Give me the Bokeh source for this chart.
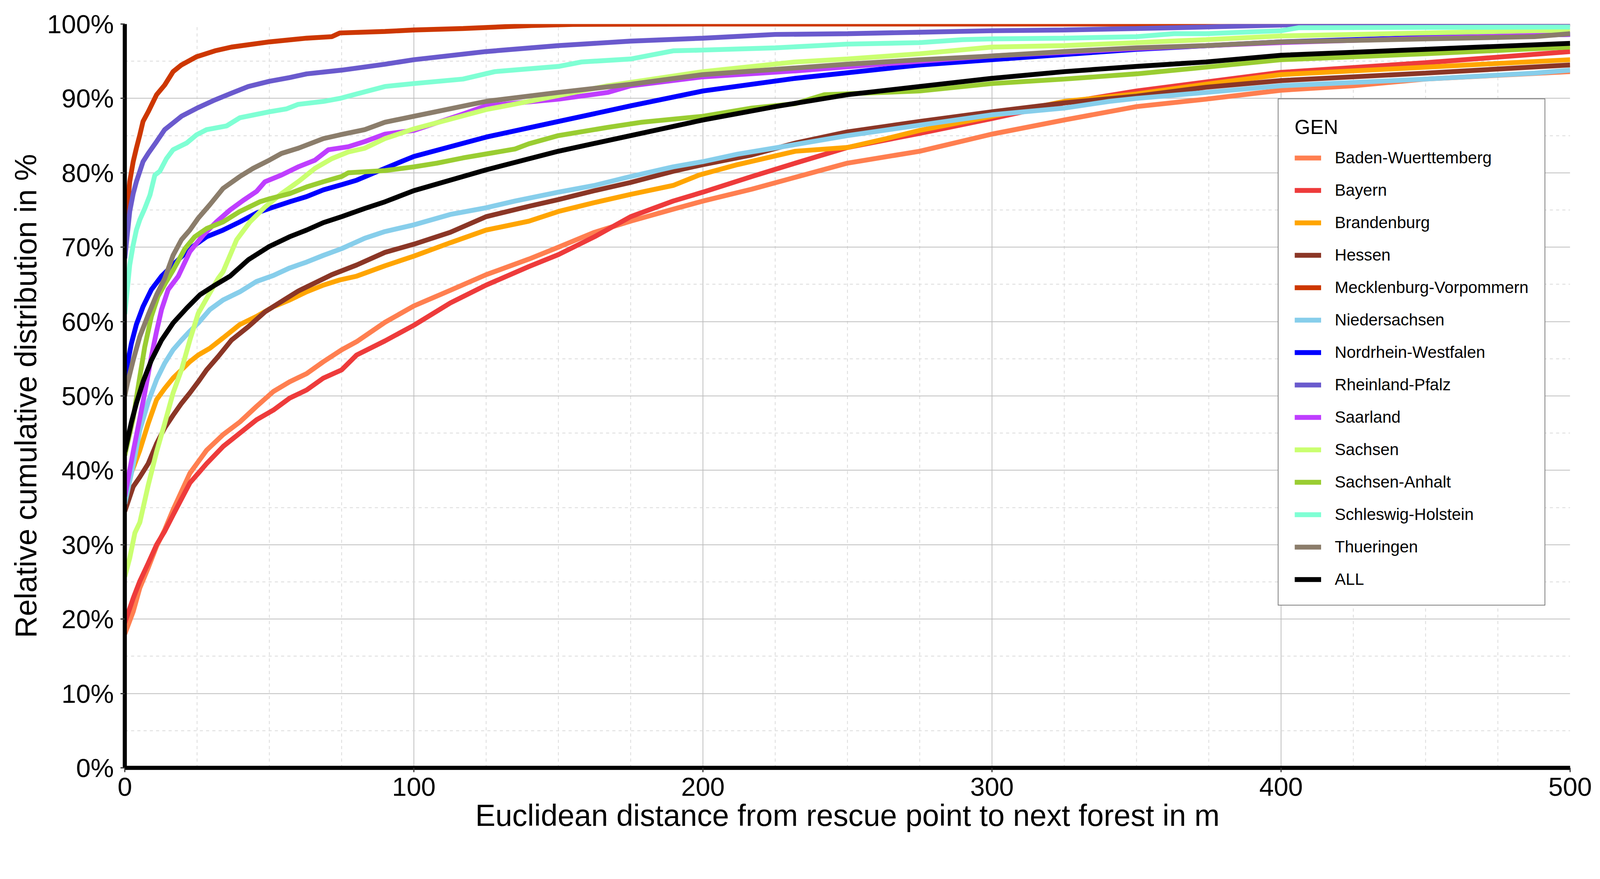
from bokeh.plotting import figure
from bokeh.models import (Range1d, FixedTicker, Legend, LegendItem)
from bokeh.embed import file_html
from bokeh.resources import INLINE

# ---------------- data ----------------
states = ["Baden-Wuerttemberg", "Bayern", "Brandenburg", "Hessen",
          "Mecklenburg-Vorpommern", "Niedersachsen", "Nordrhein-Westfalen",
          "Rheinland-Pfalz", "Saarland", "Sachsen", "Sachsen-Anhalt",
          "Schleswig-Holstein", "Thueringen", "ALL"]
colors = ["#FF7F50", "#EE3B3B", "#FFA500", "#8B3626", "#CD3700", "#87CEEB",
          "#0000FF", "#6A5ACD", "#BF3EFF", "#CAFF70", "#9ACD32", "#7FFFD4",
          "#8B7D6B", "#000000"]

bw_x = [0, 2.9, 5.2, 8.1, 11, 13.8, 16.7, 22.5, 28.3, 34, 39.8, 45.6, 51.4, 57, 62.9, 68.7, 75, 80.2, 90, 100,
        112.6, 125, 139.8, 150, 162.5, 175, 189.7, 200, 216.9, 232, 250, 275, 300, 325, 350, 374, 400, 425, 450, 500]
bw_y = [18, 21, 24.2, 26.9, 29.8, 32.0, 34.7, 39.6, 42.7, 44.8, 46.5, 48.6, 50.6, 51.9, 53.0, 54.6, 56.2, 57.3, 59.9, 62.1,
        64.2, 66.3, 68.4, 70.0, 72.0, 73.5, 75.1, 76.2, 77.8, 79.4, 81.3, 82.9, 85.2, 87.1, 88.9, 89.9, 91.1, 91.7, 92.6, 93.6]

by_x = [0, 2.9, 5.2, 8.1, 11, 13.8, 16.7, 22.5, 28.3, 34, 39.8, 45.6, 51.4, 57, 62.9, 68.7, 75, 80.2, 90, 100,
        112.6, 125, 139.8, 150, 162.5, 175, 189.7, 200, 216.9, 232, 250, 275, 300, 325, 350, 374, 400, 450, 500]
by_y = [19.5, 22.8, 25.1, 27.5, 30.0, 31.8, 34.0, 38.3, 40.9, 43.2, 45.0, 46.8, 48.1, 49.7, 50.8, 52.4, 53.5, 55.5, 57.4, 59.5,
        62.5, 64.9, 67.4, 69.0, 71.4, 74.1, 76.2, 77.4, 79.5, 81.3, 83.4, 85.3, 87.3, 89.4, 91.0, 92.2, 93.5, 94.8, 96.3]

bb_x = [0, 2.9, 5.2, 8.1, 11, 13.8, 16.7, 19.6, 22.5, 25.4, 29.4, 34, 39.8, 45.6, 51.4, 57, 62.9, 68.7, 74.4, 80.2,
        90, 100, 112.6, 125, 139.8, 150, 162.5, 175, 189.7, 198.7, 212, 232, 250, 263.5, 275, 300, 325, 350, 374, 400, 450, 500]
bb_y = [37.5, 40.3, 42.7, 46.3, 49.5, 51.0, 52.4, 53.5, 54.6, 55.5, 56.4, 57.8, 59.6, 60.7, 62.0, 62.9, 64.0, 64.9, 65.6, 66.1,
        67.5, 68.8, 70.6, 72.3, 73.5, 74.8, 76.0, 77.1, 78.3, 79.7, 81.1, 82.9, 83.4, 84.6, 85.7, 87.6, 89.6, 90.6, 91.9, 93.2, 94.2, 95.2]

he_x = [0, 2.9, 5.2, 8.1, 11, 13.8, 16.7, 19.6, 22.5, 25.4, 28.3, 32.3, 36.9, 42.7, 48.5, 54.2, 60, 65.8, 71.6, 80.2,
        90, 100, 112.6, 125, 139.8, 150, 162.5, 175, 189.7, 200, 216.9, 232, 250, 275, 300, 325, 350, 374, 400, 450, 500]
he_y = [34.5, 37.8, 39.1, 40.9, 43.6, 45.7, 47.4, 49.0, 50.4, 51.9, 53.5, 55.3, 57.5, 59.3, 61.3, 62.7, 64.1, 65.2, 66.3, 67.6,
        69.3, 70.4, 72.0, 74.1, 75.5, 76.4, 77.6, 78.7, 80.2, 81.1, 82.4, 84.0, 85.5, 86.9, 88.2, 89.4, 90.3, 91.5, 92.4, 93.4, 94.5]

mv_x = [0, 1.7, 2.9, 4.0, 5.2, 6.3, 8.1, 11, 13.8, 16.7, 19.6, 24.8, 31.2, 36.9, 50, 62.9, 71.6, 74.4, 90, 100,
        117, 140.7, 155, 200, 500]
mv_y = [71.5, 78.8, 81.5, 83.3, 85.1, 86.9, 88.2, 90.5, 91.8, 93.6, 94.5, 95.6, 96.4, 96.9, 97.6, 98.1, 98.3, 98.8, 99.0, 99.2,
        99.4, 99.8, 99.95, 100, 100]

ns_x = [0, 2.9, 5.2, 8.1, 11, 13.8, 16.7, 19.6, 22.5, 25.4, 29.4, 34, 39.8, 45.6, 51.4, 57, 62.9, 68.7, 75, 83,
        90, 100, 112.6, 125, 135, 150, 162.5, 175, 189.7, 200, 212, 232, 250, 275, 300, 325, 340.5, 350, 374, 400,
        450, 487.7, 500]
ns_y = [35.5, 40.7, 45.4, 49.2, 52.2, 54.4, 56.2, 57.5, 58.7, 59.8, 61.6, 62.9, 64.0, 65.4, 66.2, 67.2, 68.0, 68.9, 69.8, 71.2,
        72.1, 73.0, 74.4, 75.3, 76.2, 77.4, 78.3, 79.5, 80.8, 81.5, 82.5, 83.8, 85.0, 86.4, 87.8, 88.7, 89.6, 90.0, 90.8, 91.7,
        92.6, 93.4, 93.8]

nrw_x = [0, 2.3, 4, 6.3, 9.2, 12.7, 18.5, 22.5, 28.3, 34, 39.8, 45.6, 50, 57, 62.9, 68.7, 75, 80.2, 90, 100,
         125, 150, 175, 200, 232, 275, 300, 325, 350, 400, 450, 500]
nrw_y = [52.5, 57.1, 59.6, 62.0, 64.3, 66.1, 68.3, 69.8, 71.4, 72.3, 73.4, 74.6, 75.2, 76.1, 76.8, 77.7, 78.4, 79.0, 80.6, 82.2,
         84.8, 86.9, 89.0, 91.0, 92.7, 94.5, 95.2, 95.9, 96.6, 97.6, 98.2, 98.6]

rp_x = [0, 1.7, 2.9, 4.0, 5.2, 6.3, 8.1, 11, 13.8, 16.7, 19.6, 25, 31.2, 36.9, 42.7, 50, 57, 62.9, 75, 90,
        100, 125, 150, 175, 200, 225, 250, 275, 300, 325, 350, 374, 404, 420, 500]
rp_y = [68.5, 74.8, 77.2, 78.8, 80.2, 81.5, 82.6, 84.2, 85.8, 86.7, 87.6, 88.7, 89.8, 90.7, 91.6, 92.3, 92.8, 93.3, 93.8, 94.6,
        95.2, 96.3, 97.1, 97.7, 98.1, 98.6, 98.7, 98.9, 99.1, 99.2, 99.4, 99.6, 99.9, 100, 100]

sl_x = [0, 2.9, 5.2, 6.9, 9.2, 11, 12.7, 15, 18.5, 22.5, 27.1, 31.7, 36.4, 41, 45.6, 48.5, 54.2, 60, 65.8, 70.4,
        77.3, 83, 90, 100, 117, 125, 150, 167, 175, 200, 232, 275, 300, 350, 400, 450, 500]
sl_y = [36.5, 42.5, 47.0, 50.4, 55.3, 58.7, 61.6, 64.3, 66.1, 69.4, 71.6, 73.4, 75.0, 76.3, 77.5, 78.8, 79.7, 80.8, 81.7, 83.1,
        83.5, 84.2, 85.2, 85.7, 87.9, 89.0, 89.9, 90.8, 91.7, 92.9, 93.7, 95.0, 95.7, 96.7, 97.5, 98.1, 98.6]

sn_x = [0, 1.7, 3.5, 5.2, 8.1, 11, 13.8, 16.7, 19.6, 22.5, 25.4, 28.3, 32.3, 34, 38.7, 43.3, 48.5, 54.2, 60, 65.8,
        71.6, 77.3, 83, 90, 100, 125, 139.8, 167, 200, 232, 250, 275, 300, 325, 350, 374, 400, 450, 500]
sn_y = [25.7, 28.2, 31.6, 33.0, 38.0, 42.5, 46.3, 50.4, 53.5, 57.5, 61.1, 63.1, 65.8, 66.7, 71.0, 73.4, 75.4, 77.2, 78.8, 80.6,
        81.9, 82.8, 83.3, 84.6, 85.9, 88.5, 89.6, 91.7, 93.6, 94.9, 95.3, 96.0, 96.9, 97.1, 97.5, 97.9, 98.4, 98.8, 99.2]

st_x = [0, 2.9, 5.2, 6.9, 9.2, 11.5, 14.4, 16.7, 20.8, 24.2, 28.3, 34, 39.8, 46.7, 50, 57, 62.9, 68.7, 75, 77.3,
        90, 100, 108, 117, 135, 139.8, 150, 167, 178.8, 200, 216.9, 232, 242, 275, 300, 325, 350, 374, 400, 450, 500]
st_y = [42.0, 47.0, 52.6, 56.6, 60.7, 63.4, 65.4, 66.9, 69.8, 71.4, 72.5, 73.4, 74.8, 76.1, 76.5, 77.2, 78.1, 78.8, 79.5, 80.0,
        80.3, 80.8, 81.3, 82.0, 83.2, 83.9, 85.0, 86.1, 86.8, 87.6, 88.7, 89.3, 90.5, 91.0, 92.0, 92.6, 93.3, 94.2, 95.2, 96.0, 96.9]

sh_x = [0, 1.7, 2.9, 4.0, 5.2, 6.9, 8.7, 10.4, 12.1, 14.4, 16.7, 21.4, 24.8, 28.3, 35.2, 39.8, 50, 56, 60, 68.7,
        74.4, 80.2, 90, 100, 117, 128, 150, 158, 175, 189.7, 200, 225, 250, 275, 289.8, 300, 325, 350, 363, 374,
        400, 406, 500]
sh_y = [61.0, 67.6, 70.3, 72.3, 73.7, 75.2, 77.0, 79.7, 80.2, 81.9, 83.1, 84.0, 85.1, 85.8, 86.3, 87.4, 88.2, 88.6, 89.2, 89.6,
        90.0, 90.6, 91.6, 92.0, 92.6, 93.6, 94.3, 94.9, 95.3, 96.4, 96.5, 96.8, 97.3, 97.5, 97.9, 98.0, 98.1, 98.3, 98.7, 98.7,
        99.1, 99.5, 99.6]

th_x = [0, 0.9, 2.9, 5.2, 8.1, 11, 13.8, 16.7, 19.6, 22.5, 25.4, 29.4, 34, 39.8, 44.4, 50, 54.2, 60, 68.7, 74.4,
        83, 90, 100, 125, 150, 175, 200, 232, 250, 275, 300, 325, 350, 374, 400, 450, 487.7, 500]
th_y = [50.0, 51.7, 54.8, 58.0, 60.9, 63.6, 65.8, 68.9, 71.0, 72.3, 73.9, 75.7, 77.9, 79.5, 80.6, 81.7, 82.6, 83.3, 84.6, 85.1,
        85.8, 86.8, 87.6, 89.6, 90.8, 91.9, 93.2, 94.1, 94.6, 95.2, 95.7, 96.3, 96.8, 97.1, 97.6, 98.0, 98.3, 98.7]

all_x = [0, 2.3, 4, 6.3, 9.2, 12.7, 16.7, 21.4, 26, 31.2, 36.4, 42.7, 50, 57, 62.9, 68.7, 75, 83, 90, 100,
         125, 150, 175, 200, 225, 250, 275, 300, 325, 350, 374, 400, 450, 500]
all_y = [42.5, 46.5, 49.0, 51.9, 54.8, 57.5, 59.8, 61.8, 63.6, 64.9, 66.1, 68.3, 70.1, 71.4, 72.3, 73.3, 74.1, 75.2, 76.1, 77.6,
         80.4, 82.9, 85.0, 87.1, 88.9, 90.5, 91.6, 92.7, 93.6, 94.3, 94.9, 95.8, 96.6, 97.4]

series_x = [bw_x, by_x, bb_x, he_x, mv_x, ns_x, nrw_x, rp_x, sl_x, sn_x, st_x, sh_x, th_x, all_x]
series_y = [bw_y, by_y, bb_y, he_y, mv_y, ns_y, nrw_y, rp_y, sl_y, sn_y, st_y, sh_y, th_y, all_y]

x_ticks = [0, 100, 200, 300, 400, 500]
x_minor = [25, 50, 75, 125, 150, 175, 225, 250, 275, 325, 350, 375, 425, 450, 475]
y_ticks = [0, 10, 20, 30, 40, 50, 60, 70, 80, 90, 100]
y_minor = [5, 15, 25, 35, 45, 55, 65, 75, 85, 95]
y_tick_labels = ["0%", "10%", "20%", "30%", "40%", "50%", "60%", "70%", "80%", "90%", "100%"]

x_title = "Euclidean distance from rescue point to next forest in m"
y_title = "Relative cumulative distribution in %"
legend_title = "GEN"

# ---------------- layout ----------------
K = 0.956          # overall scale so that the whole page fits the photographed area
FONT = "Liberation Sans"


def s(v):
    return int(round(v * K))


def fs(v):
    return "%.1fpx" % (v * K)


FW, FH = s(3870), s(1992)

p = figure(frame_width=FW, frame_height=FH, output_backend="svg", toolbar_location=None,
           x_range=Range1d(0, 500), y_range=Range1d(0, 100),
           min_border_left=s(334), min_border_top=s(64), min_border_right=s(60),
           min_border_bottom=s(150))
p.outline_line_color = None
p.background_fill_color = "white"
p.border_fill_color = "white"

p.xaxis.ticker = FixedTicker(ticks=x_ticks, minor_ticks=x_minor)
p.yaxis.ticker = FixedTicker(ticks=y_ticks, minor_ticks=y_minor)
p.yaxis.major_label_overrides = {t: l for t, l in zip(y_ticks, y_tick_labels)}

for ax in (p.xaxis, p.yaxis):
    ax.axis_line_color = "black"
    ax.axis_line_width = 11 * K
    ax.major_tick_line_color = "#333333"
    ax.major_tick_line_width = 3 * K
    ax.major_tick_in = 0
    ax.major_tick_out = s(12)
    ax.minor_tick_line_color = None
    ax.major_label_text_font = FONT
    ax.major_label_text_font_size = fs(70)
    ax.major_label_text_color = "black"
    ax.axis_label_text_font = FONT
    ax.axis_label_text_font_size = fs(81)
    ax.axis_label_text_font_style = "normal"
    ax.axis_label_text_color = "black"

p.xaxis.axis_label = x_title
p.yaxis.axis_label = y_title
p.xaxis.major_label_standoff = s(15)
p.xaxis.axis_label_standoff = s(4)
p.yaxis.major_label_standoff = s(18)
p.yaxis.axis_label_standoff = s(8)

for g in (p.xgrid, p.ygrid):
    g.grid_line_color = "#bdbdbd"
    g.grid_line_width = 2
    g.minor_grid_line_color = "#dadada"
    g.minor_grid_line_width = 2
    g.minor_grid_line_dash = "8 8"

items = []
for name, col, xs, ys in zip(states, colors, series_x, series_y):
    r = p.line(xs, ys, line_color=col, line_width=13 * K)
    items.append(LegendItem(label=name, renderers=[r]))

legend = Legend(items=items, location=(s(3096) - 8, s(434)), margin=0, padding=s(40) + 3,
                title=legend_title, title_text_font=FONT, title_text_font_size=fs(54),
                title_text_font_style="normal", title_text_color="black", title_standoff=s(26),
                label_text_font=FONT, label_text_font_size=fs(44), label_text_color="black",
                glyph_width=s(71), glyph_height=s(50), label_height=s(50), label_standoff=s(37),
                spacing=s(37), border_line_color="black", border_line_width=2,
                background_fill_color="white", background_fill_alpha=1.0)
p.add_layout(legend)

open("out.html", "w").write(file_html(p, INLINE))
